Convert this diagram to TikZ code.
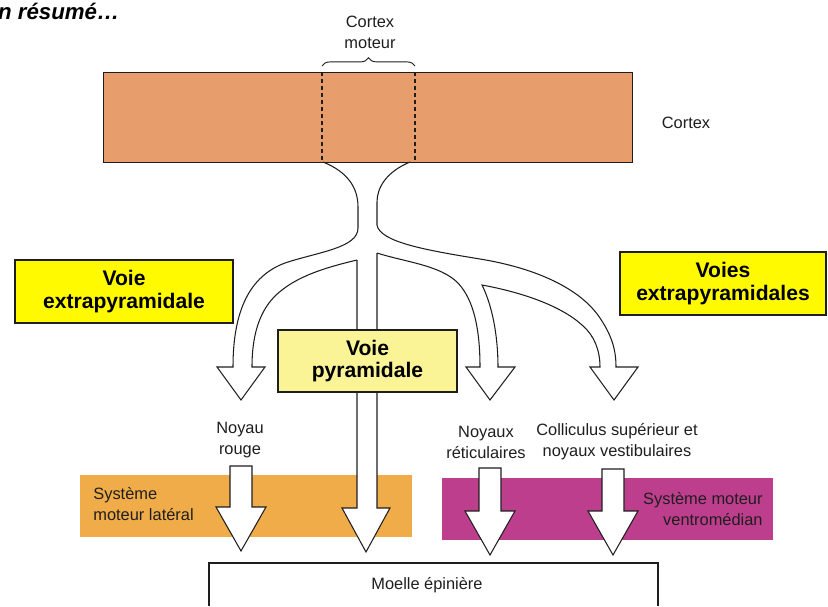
\documentclass[tikz,border=0pt]{standalone}
\usepackage{fontspec}
\setmainfont{Liberation Sans}
\usepackage{tikz}
\usetikzlibrary{decorations.pathreplacing}
\usepackage{xcolor}

\definecolor{cortexorange}{RGB}{232,158,108}
\definecolor{latorange}{RGB}{240,172,72}
\definecolor{ventromag}{RGB}{190,62,142}
\definecolor{jaunevif}{RGB}{255,250,0}
\definecolor{jaunepale}{RGB}{250,244,150}
\definecolor{encre}{RGB}{30,30,30}

% grosse fleche blanche : x du centre, haut, pointe
\newcommand{\grossefleche}[3]{%
  \filldraw[fleche] ({#1-11},#2) -- ({#1-11},{#3-44}) -- ({#1-25},{#3-44}) -- (#1,#3) -- ({#1+25},{#3-44}) -- ({#1+11},{#3-44}) -- ({#1+11},#2) -- cycle;}

\begin{document}
\begin{tikzpicture}[x=0.03cm,y=-0.03cm,
  voie/.style={draw=encre,line width=1.4pt,font=\bfseries\fontsize{18}{19}\selectfont,align=center,inner sep=0pt},
  petit/.style={font=\fontsize{14}{18}\selectfont,text=encre,align=center,inner sep=1pt},
  fleche/.style={draw=encre,fill=white,line width=0.9pt,line join=miter},
  trait/.style={draw=encre,line width=0.9pt,line join=miter}]
\useasboundingbox (0,0) rectangle (828,606);

\node[anchor=base west,font=\bfseries\itshape\fontsize{19}{22}\selectfont,inner sep=0pt] (titre) at (-17,19) {En résumé…};

% cortex
\fill[cortexorange] (103,72) rectangle (632,162);
\draw[encre,line width=0.8pt] (103,72) rectangle (632,162);
\draw[encre,dashed,line width=0.9pt] (322,72) -- (322,162) (415,72) -- (415,162);
\coordinate (cmg) at (322,66);
\coordinate (cmd) at (415,66);
\draw[encre,line width=0.8pt,decorate,decoration={brace,amplitude=7pt}] (cmg) -- (cmd);
\node[petit] (cmoteur) at (370,32) {Cortex\\moteur};
\node[petit] (cortexlbl) at (686,123) {Cortex};

% systemes moteurs
\fill[latorange] (80,475) rectangle (412,537);
\fill[ventromag] (442,478) rectangle (773,540);

\grossefleche{241}{466}{551}
\grossefleche{490}{468}{555}
\grossefleche{613}{469}{555}

% voie pyramidale
\fill[white] (357,470) -- (357,508) -- (342,508) -- (366,552) -- (390,508) -- (377,508) -- (377,470) -- cycle;
\draw[trait] (357,260) -- (357,508) -- (342,508) -- (366,552) -- (390,508) -- (377,508) -- (377,253);

% branches
\draw[trait] (323,162) .. controls (348,172) and (358,188) .. (358,207) -- (358,228)
  .. controls (358,248) and (318,252) .. (285,263)
  .. controls (250,276) and (233,310) .. (233,367)
  -- (217,367) -- (241,400) -- (265,367) -- (252,367)
  .. controls (252,330) and (262,305) .. (282,290)
  .. controls (302,274) and (332,266) .. (357,260);
\draw[trait] (410,162) .. controls (386,172) and (377,188) .. (377,202) -- (377,225)
  .. controls (380,242) and (425,250) .. (480,259)
  .. controls (535,268) and (580,288) .. (600,318)
  .. controls (612,336) and (616,350) .. (616,367)
  -- (638,367) -- (614,400) -- (590,367) -- (600,367)
  .. controls (600,350) and (594,335) .. (582,325)
  .. controls (560,305) and (520,292) .. (482,285)
  .. controls (492,305) and (498,335) .. (498,367)
  -- (515,367) -- (490,400) -- (466,367) -- (480,367)
  .. controls (480,330) and (474,300) .. (458,283)
  .. controls (440,265) and (405,262) .. (377,253);

\node[voie,fill=jaunevif,minimum width=6.54cm,minimum height=1.89cm] (voieg) at (124,291.5) {Voie\\extrapyramidale};
\node[voie,fill=jaunevif,minimum width=6.18cm,minimum height=1.89cm] (voied) at (723,283.5) {Voies\\extrapyramidales};
\node[voie,fill=jaunepale,minimum width=5.37cm,minimum height=1.86cm] (voiep) at (367.5,361) {Voie\\pyramidale};

\node[petit] (rouge) at (240,440) {Noyau\\rouge};
\node[petit] (reticul) at (486,442) {Noyaux\\réticulaires};
\node[petit] (collic) at (617,442) {Colliculus supérieur et\\noyaux vestibulaires};
\node[petit,align=left,anchor=west] (lateral) at (92,504) {Système\\moteur latéral};
\node[petit,align=right,anchor=east] (ventro) at (764,509) {Système moteur\\ventromédian};

% moelle
\draw[encre,line width=1.6pt] (209,606) |- (658,563) -- (658,606);
\node[petit] (moelle) at (427,585) {Moelle épinière};
\end{tikzpicture}
\end{document}
